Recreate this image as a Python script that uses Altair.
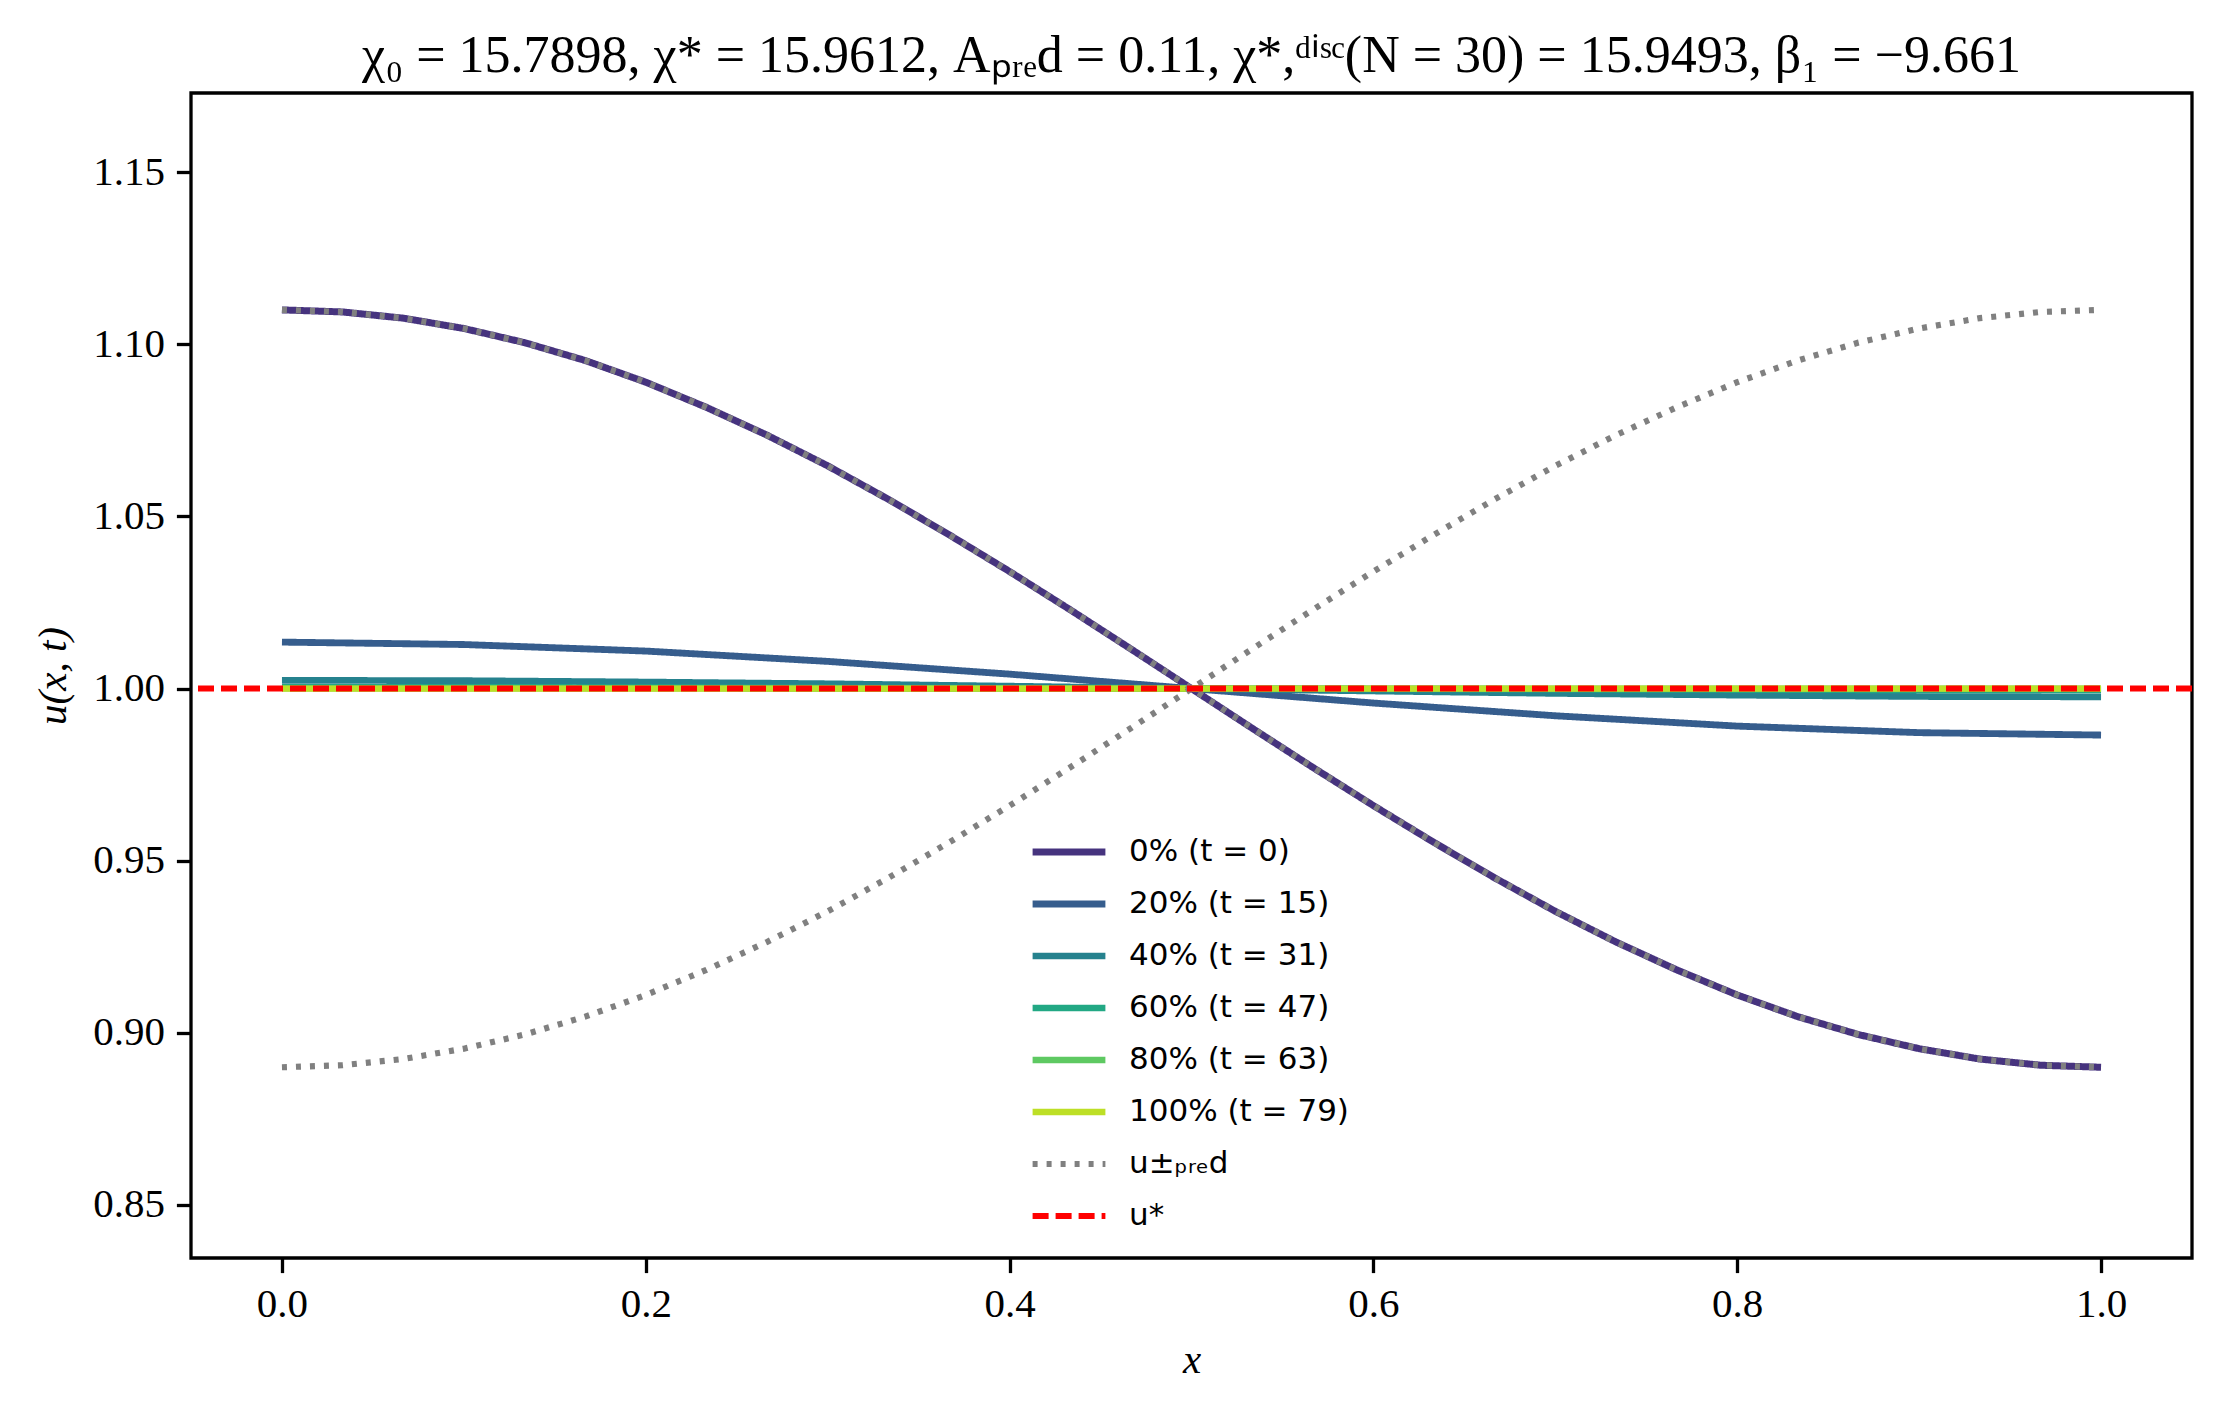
import altair as alt
import pandas as pd

# grid points and curves
x_fine = [0.0, 0.0333, 0.0667, 0.1, 0.1333, 0.1667, 0.2, 0.2333, 0.2667, 0.3, 0.3333,
          0.3667, 0.4, 0.4333, 0.4667, 0.5, 0.5333, 0.5667, 0.6, 0.6333, 0.6667, 0.7,
          0.7333, 0.7667, 0.8, 0.8333, 0.8667, 0.9, 0.9333, 0.9667, 1.0]
x_coarse = [0.0, 0.1, 0.2, 0.3, 0.4, 0.5, 0.6, 0.7, 0.8, 0.9, 1.0]

u_t0 = [1.1100, 1.1094, 1.1076, 1.1046, 1.1005, 1.0953, 1.0890, 1.0817, 1.0736, 1.0647, 1.0550,
        1.0447, 1.0340, 1.0229, 1.0115, 1.0000, 0.9885, 0.9771, 0.9660, 0.9553, 0.9450, 0.9353,
        0.9264, 0.9183, 0.9110, 0.9047, 0.8995, 0.8954, 0.8924, 0.8906, 0.8900]
u_t15 = [1.0135, 1.0128, 1.0109, 1.0079, 1.0042, 1.0000, 0.9958, 0.9921, 0.9891, 0.9872, 0.9865]
u_t31 = [1.0024, 1.0023, 1.0019, 1.0014, 1.0007, 1.0000, 0.9993, 0.9986, 0.9981, 0.9977, 0.9976]
u_t47 = [1.0004, 1.0004, 1.0003, 1.0002, 1.0001, 1.0000, 0.9999, 0.9998, 0.9997, 0.9996, 0.9996]
u_t63 = [1.00007, 1.00007, 1.00006, 1.00004, 1.00002, 1.0, 0.99998, 0.99996, 0.99994, 0.99993, 0.99993]
u_t79 = [1.00001, 1.00001, 1.00001, 1.00001, 1.0, 1.0, 1.0, 0.99999, 0.99999, 0.99999, 0.99999]

u_pred_plus = [1.1100, 1.1094, 1.1076, 1.1046, 1.1005, 1.0953, 1.0890, 1.0817, 1.0736, 1.0647, 1.0550,
               1.0447, 1.0340, 1.0229, 1.0115, 1.0000, 0.9885, 0.9771, 0.9660, 0.9553, 0.9450, 0.9353,
               0.9264, 0.9183, 0.9110, 0.9047, 0.8995, 0.8954, 0.8924, 0.8906, 0.8900]
u_pred_minus = [0.8900, 0.8906, 0.8924, 0.8954, 0.8995, 0.9047, 0.9110, 0.9183, 0.9264, 0.9353, 0.9450,
                0.9553, 0.9660, 0.9771, 0.9885, 1.0000, 1.0115, 1.0229, 1.0340, 1.0447, 1.0550, 1.0647,
                1.0736, 1.0817, 1.0890, 1.0953, 1.1005, 1.1046, 1.1076, 1.1094, 1.1100]
u_star = 1.0

snap_labels = ["0% (t = 0)", "20% (t = 15)", "40% (t = 31)", "60% (t = 47)",
               "80% (t = 63)", "100% (t = 79)"]
pred_label = "u±ₚᵣₑd"
star_label = "u*"
series_order = snap_labels + [pred_label, star_label]
series_colors = ["#46337e", "#365d8d", "#26828e", "#22a884", "#5ec962", "#bddf26",
                 "#808080", "#ff0000"]
series_dash = [[1, 0]] * 6 + [[5, 9], [16, 7]]
series_width = [7, 6, 6, 6, 6, 6, 5, 3.5]

title_text = ("χ₀ = 15.7898,  χ* = 15.9612,  Aₚᵣₑd = 0.11,  "
              "χ*,ᵈⁱˢᶜ(N = 30) = 15.9493,  β₁ = −9.661")

# long-form tables
rows = []
for xv, uv in zip(x_fine, u_t0):
    rows.append({"x": xv, "u": uv, "series": snap_labels[0], "branch": "a"})
for label, vals in zip(snap_labels[1:], [u_t15, u_t31, u_t47, u_t63, u_t79]):
    for xv, uv in zip(x_coarse, vals):
        rows.append({"x": xv, "u": uv, "series": label, "branch": "a"})
df_snap = pd.DataFrame(rows)

rows = []
for xv, up, um in zip(x_fine, u_pred_plus, u_pred_minus):
    rows.append({"x": xv, "u": up, "series": pred_label, "branch": "plus"})
    rows.append({"x": xv, "u": um, "series": pred_label, "branch": "minus"})
df_pred = pd.DataFrame(rows)
df_star = pd.DataFrame({"u": [u_star], "series": [star_label]})

legend = alt.Legend(
    title=None, orient="none", legendX=838, legendY=733,
    symbolType="stroke", symbolSize=5300, labelFont="DejaVu Sans",
    labelFontSize=31, labelColor="black", labelOffset=20, labelLimit=600,
    clipHeight=52, rowPadding=0, padding=0,
)
color = alt.Color("series:N", scale=alt.Scale(domain=series_order, range=series_colors), legend=legend)
dash = alt.StrokeDash("series:N", scale=alt.Scale(domain=series_order, range=series_dash), legend=legend)
width = alt.StrokeWidth("series:N", scale=alt.Scale(domain=series_order, range=series_width), legend=legend)

x_enc = alt.X(
    "x:Q", title="x",
    scale=alt.Scale(domain=[-0.05, 1.05], nice=False, zero=False),
    axis=alt.Axis(values=[0.0, 0.2, 0.4, 0.6, 0.8, 1.0], format=".1f", titlePadding=16),
)
y_enc = alt.Y(
    "u:Q", title="u(x, t)",
    scale=alt.Scale(domain=[0.8346, 1.173], nice=False, zero=False),
    axis=alt.Axis(values=[0.85, 0.9, 0.95, 1.0, 1.05, 1.1, 1.15], format=".2f", titlePadding=18),
)

snaps = alt.Chart(df_snap).mark_line(strokeCap="butt").encode(
    x=x_enc, y=y_enc, color=color, strokeDash=dash, strokeWidth=width, detail="branch:N"
)
preds = alt.Chart(df_pred).mark_line(strokeCap="butt").encode(
    x=x_enc, y=y_enc, color=color, strokeDash=dash, strokeWidth=width, detail="branch:N"
)
star = alt.Chart(df_star).mark_rule().encode(
    y=y_enc, color=color, strokeDash=dash, strokeWidth=width
)

chart = (
    alt.layer(snaps, preds, star)
    .properties(
        width=2001, height=1165,
        autosize=alt.AutoSizeParams(type="none"),
        padding={"left": 183, "top": 85, "right": 20, "bottom": 140},
        background="white",
        title=alt.TitleParams(
            title_text, font="Liberation Serif", fontSize=52, fontWeight="normal",
            color="black", offset=10,
        ),
    )
    .configure_view(stroke="black", strokeWidth=3.3)
    .configure_axis(
        domain=False, grid=False, tickColor="black", tickWidth=3.3, tickSize=14.6,
        labelPadding=12, labelFont="Liberation Serif", labelFontSize=41, labelColor="black",
        titleFont="Liberation Serif", titleFontSize=41, titleFontStyle="italic",
        titleFontWeight="normal", titleColor="black",
    )
)

chart.save("out.html", embed_options={"renderer": "svg", "actions": False})
